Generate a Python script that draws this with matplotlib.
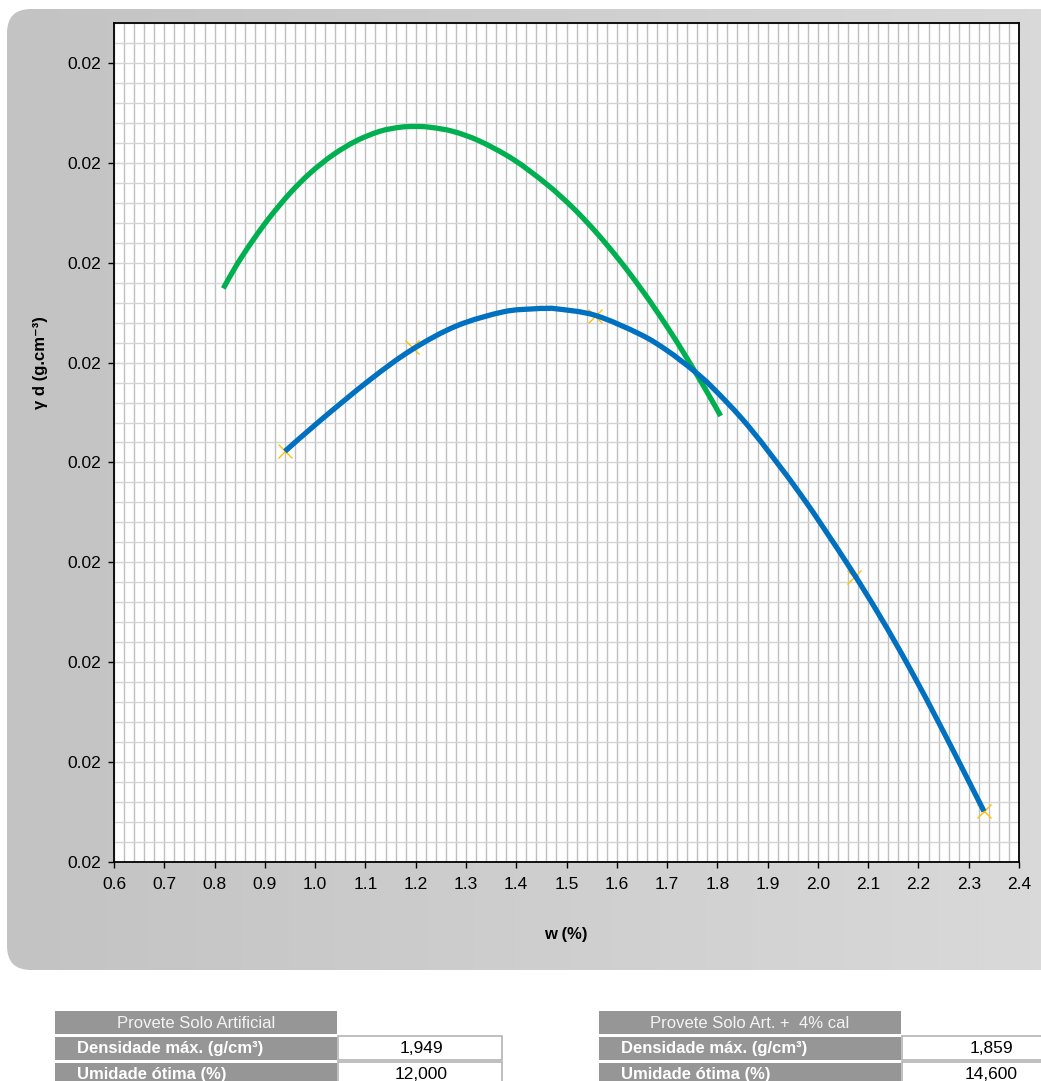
import numpy as np
import matplotlib
matplotlib.use("Agg")
import matplotlib.pyplot as plt
from matplotlib.patches import FancyBboxPatch, Rectangle, PathPatch
from matplotlib.path import Path
from matplotlib.colors import LinearSegmentedColormap
from matplotlib.ticker import MultipleLocator, FixedLocator, FormatStrFormatter

plt.rcParams["font.family"] = ["Liberation Sans", "DejaVu Sans"]

# ---- compaction curves (w scaled /10, dry density scaled /100) ----
green_w = [0.8174, 0.8440, 0.8770, 0.9103, 0.9500, 0.9898, 1.0362, 1.0827,
           1.1290, 1.1688, 1.1987, 1.2285, 1.2748, 1.3279, 1.3942, 1.4606,
           1.5135, 1.5600, 1.6064, 1.6527, 1.6992, 1.7390, 1.7788, 1.8066]
green_gd = [0.018671, 0.018789, 0.018915, 0.019029, 0.019148, 0.019248,
            0.019341, 0.019411, 0.019458, 0.019478, 0.019482, 0.019478,
            0.019457, 0.019408, 0.019317, 0.019193, 0.019073, 0.018949,
            0.018809, 0.018654, 0.018483, 0.018324, 0.018156, 0.018033]

blue_w = [0.9401, 1.0097, 1.1091, 1.1921, 1.2816, 1.3743, 1.4339, 1.4572,
          1.4805, 1.5567, 1.6462, 1.6992, 1.7521, 1.7919, 1.8649, 1.9644,
          2.0572, 2.1235, 2.1831, 2.2428, 2.2959, 2.3303]
blue_gd = [0.017856, 0.018009, 0.018214, 0.018364, 0.018484, 0.018554,
           0.018569, 0.018571, 0.018569, 0.018537, 0.018442, 0.018362,
           0.018261, 0.018171, 0.017972, 0.017644, 0.017298, 0.017030,
           0.016768, 0.016486, 0.016225, 0.016054]

# measured specimens (lime-treated soil)
pts_w = [0.940, 1.192, 1.557, 2.072, 2.330]
pts_gd = [0.017855, 0.018377, 0.018531, 0.017226, 0.016055]

# axis scale
x_min, x_max = 0.6, 2.4
y_min, y_max = 0.0158, 0.0200
y_major = [0.0158 + 0.0005 * k for k in range(9)]
y_minor = [0.0158 + 0.0001 * k for k in range(43)]

# summary tables
tab1_title = "Provete Solo Artificial"
tab2_title = "Provete Solo Art. +  4% cal"
row_labels = ["Densidade máx. (g/cm³)", "Umidade ótima (%)"]
tab1_values = ["1,949", "12,000"]
tab2_values = ["1,859", "14,600"]


def smooth_path(xs, ys):
    """Smoothed scatter line (Catmull-Rom segments as cubic Beziers)."""
    p = np.column_stack([xs, ys])
    ext = np.vstack([p[0], p, p[-1]])
    verts = [p[0]]
    codes = [Path.MOVETO]
    for i in range(1, len(ext) - 2):
        c1 = ext[i] + (ext[i + 1] - ext[i - 1]) / 6.0
        c2 = ext[i + 1] - (ext[i + 2] - ext[i]) / 6.0
        verts += [c1, c2, ext[i + 1]]
        codes += [Path.CURVE4] * 3
    return Path(verts, codes)


W, H = 1041, 1081
fig = plt.figure(figsize=(W / 100, H / 100), dpi=100)

# background layer in pixel coordinates
bg = fig.add_axes([0, 0, 1, 1])
bg.axis("off")
cmap = LinearSegmentedColormap.from_list("panel", ["#c3c3c3", "#dadada"])
grad = np.linspace(0, 1, 256).reshape(1, -1)
im = bg.imshow(grad, extent=(7, W + 40, 970, 9), cmap=cmap, aspect="auto",
               interpolation="bilinear", zorder=0)
r = 24
panel = FancyBboxPatch((7 + r, 9 + r), W + 40 - 7 - 2 * r, 970 - 9 - 2 * r,
                       boxstyle="round,pad=%d" % r, fc="none", ec="none")
bg.add_patch(panel)
im.set_clip_path(panel)
bg.set_xlim(0, W)
bg.set_ylim(H, 0)

# main chart
ax = fig.add_axes([114 / W, 1 - 862 / H, (1019 - 114) / W, (862 - 23) / H])
ax.set_facecolor("white")
ax.set_xlim(x_min, x_max)
ax.set_ylim(y_min, y_max)
ax.xaxis.set_major_locator(MultipleLocator(0.1))
ax.xaxis.set_minor_locator(MultipleLocator(0.02))
ax.yaxis.set_major_locator(FixedLocator(y_major))
ax.yaxis.set_minor_locator(FixedLocator(y_minor))
ax.xaxis.set_major_formatter(FormatStrFormatter("%.1f"))
ax.yaxis.set_major_formatter(FormatStrFormatter("%.2f"))
ax.grid(which="both", axis="x", color="#c0c0c0", lw=1.0, zorder=0)
ax.grid(which="both", axis="y", color="#d4d4d4", lw=1.0, zorder=0)
ax.set_axisbelow(True)
ax.tick_params(which="major", direction="out", length=4.5, width=1.0,
               labelsize=12.5, pad=5, color="black")
ax.tick_params(axis="x", which="major", pad=6.5)
ax.tick_params(which="minor", length=0)
for s in ax.spines.values():
    s.set_color("black")
    s.set_linewidth(1.3)

ax.plot(pts_w, pts_gd, ls="none", marker="x", ms=10, mew=1.0,
        color="#ffc000", zorder=2)
ax.add_patch(PathPatch(smooth_path(green_w, green_gd), fc="none", ec="#00b050",
                       lw=3.8, capstyle="butt", joinstyle="round", zorder=3))
ax.add_patch(PathPatch(smooth_path(blue_w, blue_gd), fc="none", ec="#0070c0",
                       lw=3.8, capstyle="butt", joinstyle="round", zorder=4))

fig.text(40 / W, 1 - 363 / H, "γ d (g.cm⁻³)", rotation=90, fontsize=12,
         fontweight="bold", ha="center", va="center")
fig.text(566 / W, 1 - 935 / H, "w (%)", fontsize=12, fontweight="bold",
         ha="center", va="center")


# summary tables
def draw_table(x0, label_w, val_w, title, values, val_cx):
    hdr = "#969696"
    bg.add_patch(Rectangle((x0, 1011), label_w, 23, fc=hdr, ec="none"))
    bg.text(x0 + label_w / 2, 1023, title, color="#f4f4f4", fontsize=12,
            ha="center", va="center")
    tops = [1037, 1063]
    for i, (lab, val) in enumerate(zip(row_labels, values)):
        y = tops[i]
        bg.add_patch(Rectangle((x0, y), label_w, 23 if i == 0 else 30,
                               fc=hdr, ec="none"))
        bg.add_patch(Rectangle((x0 + label_w + 1, y - 1), val_w, 24 if i == 0 else 30,
                               fc="white", ec="#b4b4b4", lw=1.2))
        bg.text(x0 + 22, y + 11.5, lab, color="white", fontsize=12,
                fontweight="bold", ha="left", va="center")
        bg.text(val_cx, y + 11.5, val, color="black", fontsize=12.5,
                ha="center", va="center")


draw_table(55, 282, 164, tab1_title, tab1_values, 421)
draw_table(599, 302, 160, tab2_title, tab2_values, 991)

fig.savefig("out.png", dpi=100)
